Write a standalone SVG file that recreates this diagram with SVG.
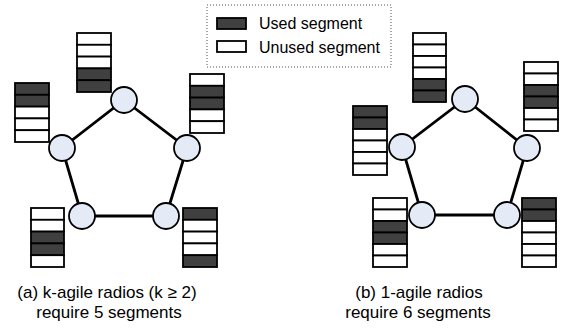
<svg xmlns="http://www.w3.org/2000/svg" width="563" height="331" viewBox="0 0 563 331">
<defs>
<style>
.d{fill:#404040;stroke:#000;stroke-width:1.8}
.w{fill:#fff;stroke:#000;stroke-width:1.8}
.n{fill:#e4ebf6;stroke:#000;stroke-width:1.8}
.e{stroke:#000;stroke-width:2.8;fill:none}
.t{font-family:"Liberation Sans",Arial,sans-serif;fill:#000}
</style>
</defs>
<rect width="563" height="331" fill="#fff"/>
<g id="legend">
<rect x="207" y="5" width="184" height="62" fill="none" stroke="#555" stroke-width="1" stroke-dasharray="1,2"/>
<rect class="d" x="217" y="18" width="29" height="11"/>
<rect class="w" x="217" y="41" width="29" height="11"/>
<text class="t" x="259" y="29" font-size="16">Used segment</text>
<text class="t" x="259" y="53" font-size="16">Unused segment</text>
</g>
<g id="edges-a">
<polygon class="e" points="124,100 187,148 166,216 82,216 62,148"/>
</g>
<g id="edges-b">
<polygon class="e" points="465,99 527,148 507,215 422,215 402,147"/>
</g>
<g id="nodes-a">
<circle id="a1" class="n" cx="124" cy="100" r="13"/>
<circle id="a2" class="n" cx="187" cy="148" r="13"/>
<circle id="a3" class="n" cx="166" cy="216" r="13"/>
<circle id="a4" class="n" cx="82" cy="216" r="13"/>
<circle id="a5" class="n" cx="62" cy="148" r="13"/>
</g>
<g id="nodes-b">
<circle id="b1" class="n" cx="465" cy="99" r="13"/>
<circle id="b2" class="n" cx="527" cy="148" r="13"/>
<circle id="b3" class="n" cx="507" cy="215" r="13"/>
<circle id="b4" class="n" cx="422" cy="215" r="13"/>
<circle id="b5" class="n" cx="402" cy="147" r="13"/>
</g>
<g id="stack-a-top">
<rect class="w" x="77" y="33" width="34" height="11.8"/>
<rect class="w" x="77" y="44.8" width="34" height="11.8"/>
<rect class="w" x="77" y="56.6" width="34" height="11.8"/>
<rect class="d" x="77" y="68.4" width="34" height="11.8"/>
<rect class="d" x="77" y="80.2" width="34" height="11.8"/>
</g>
<g id="stack-a-left">
<rect class="d" x="15" y="83" width="34" height="11.8"/>
<rect class="d" x="15" y="94.8" width="34" height="11.8"/>
<rect class="w" x="15" y="106.6" width="34" height="11.8"/>
<rect class="w" x="15" y="118.4" width="34" height="11.8"/>
<rect class="w" x="15" y="130.2" width="34" height="11.8"/>
</g>
<g id="stack-a-right">
<rect class="w" x="190" y="74" width="34" height="11.8"/>
<rect class="d" x="190" y="85.8" width="34" height="11.8"/>
<rect class="d" x="190" y="97.6" width="34" height="11.8"/>
<rect class="w" x="190" y="109.4" width="34" height="11.8"/>
<rect class="w" x="190" y="121.2" width="34" height="11.8"/>
</g>
<g id="stack-a-bl">
<rect class="w" x="31" y="208" width="33" height="11.8"/>
<rect class="w" x="31" y="219.8" width="33" height="11.8"/>
<rect class="d" x="31" y="231.6" width="33" height="11.8"/>
<rect class="d" x="31" y="243.4" width="33" height="11.8"/>
<rect class="w" x="31" y="255.2" width="33" height="11.8"/>
</g>
<g id="stack-a-br">
<rect class="d" x="183" y="208" width="34" height="11.8"/>
<rect class="w" x="183" y="219.8" width="34" height="11.8"/>
<rect class="w" x="183" y="231.6" width="34" height="11.8"/>
<rect class="w" x="183" y="243.4" width="34" height="11.8"/>
<rect class="d" x="183" y="255.2" width="34" height="11.8"/>
</g>
<g id="stack-b-top">
<rect class="w" x="413" y="33" width="33" height="11.5"/>
<rect class="w" x="413" y="44.5" width="33" height="11.5"/>
<rect class="w" x="413" y="56" width="33" height="11.5"/>
<rect class="w" x="413" y="67.5" width="33" height="11.5"/>
<rect class="d" x="413" y="79" width="33" height="11.5"/>
<rect class="d" x="413" y="90.5" width="33" height="11.5"/>
</g>
<g id="stack-b-left">
<rect class="d" x="353" y="106" width="34" height="11.5"/>
<rect class="d" x="353" y="117.5" width="34" height="11.5"/>
<rect class="w" x="353" y="129" width="34" height="11.5"/>
<rect class="w" x="353" y="140.5" width="34" height="11.5"/>
<rect class="w" x="353" y="152" width="34" height="11.5"/>
<rect class="w" x="353" y="163.5" width="34" height="11.5"/>
</g>
<g id="stack-b-right">
<rect class="w" x="524" y="62" width="34" height="11.5"/>
<rect class="w" x="524" y="73.5" width="34" height="11.5"/>
<rect class="d" x="524" y="85" width="34" height="11.5"/>
<rect class="d" x="524" y="96.5" width="34" height="11.5"/>
<rect class="w" x="524" y="108" width="34" height="11.5"/>
<rect class="w" x="524" y="119.5" width="34" height="11.5"/>
</g>
<g id="stack-b-bl">
<rect class="w" x="373" y="198" width="34" height="11.5"/>
<rect class="w" x="373" y="209.5" width="34" height="11.5"/>
<rect class="d" x="373" y="221" width="34" height="11.5"/>
<rect class="d" x="373" y="232.5" width="34" height="11.5"/>
<rect class="w" x="373" y="244" width="34" height="11.5"/>
<rect class="w" x="373" y="255.5" width="34" height="11.5"/>
</g>
<g id="stack-b-br">
<rect class="d" x="522" y="198" width="34" height="11.5"/>
<rect class="d" x="522" y="209.5" width="34" height="11.5"/>
<rect class="w" x="522" y="221" width="34" height="11.5"/>
<rect class="w" x="522" y="232.5" width="34" height="11.5"/>
<rect class="w" x="522" y="244" width="34" height="11.5"/>
<rect class="w" x="522" y="255.5" width="34" height="11.5"/>
</g>
<g id="captions">
<text class="t" x="107" y="298" font-size="17" text-anchor="middle">(a) k-agile radios (k ≥ 2)</text>
<text class="t" x="109" y="318" font-size="17" text-anchor="middle">require 5 segments</text>
<text class="t" x="419" y="298" font-size="17" text-anchor="middle">(b) 1-agile radios</text>
<text class="t" x="418" y="318" font-size="17" text-anchor="middle">require 6 segments</text>
</g>
</svg>
